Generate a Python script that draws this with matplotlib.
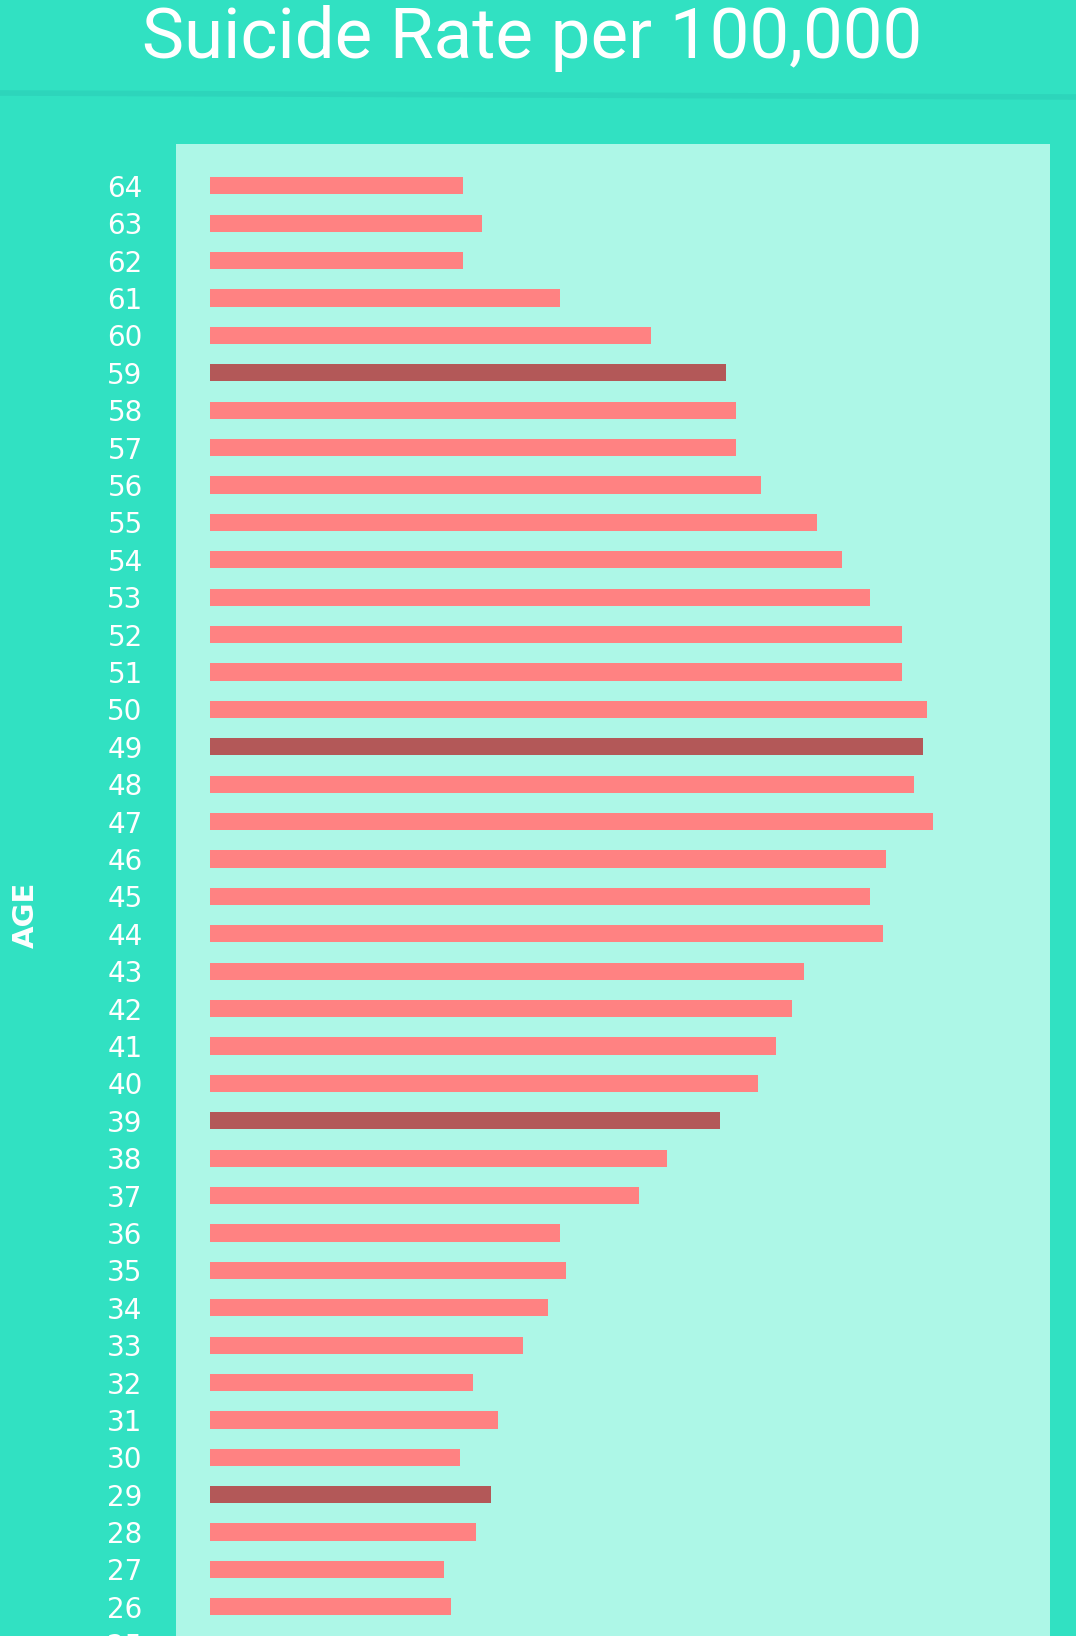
import numpy as np
import matplotlib
matplotlib.use("Agg")
from matplotlib import pyplot as plt

# data
ages = list(range(64, 24, -1))
rates = [8.1, 8.7, 8.1, 11.2, 14.1, 16.5, 16.8, 16.8, 17.6, 19.4,
         20.2, 21.1, 22.1, 22.1, 22.9, 22.8, 22.5, 23.1, 21.6, 21.1,
         21.5, 19.0, 18.6, 18.1, 17.5, 16.3, 14.6, 13.7, 11.2, 11.4,
         10.8, 10.0, 8.4, 9.2, 8.0, 9.0, 8.5, 7.5, 7.7, 7.8]
highlight = [59, 49, 39, 29]

BG = "#31e1c2"
PANEL = "#adf7e7"
BAR = "#ff8282"
DARK = "#b35858"

W, H = 1076, 1636
fig = plt.figure(figsize=(W / 100, H / 100), dpi=100, facecolor=BG)

# panel runs off the bottom of the picture
top_px, bot_px = 144, 1700
ax = fig.add_axes([176 / W, 1 - bot_px / H, (1050 - 176) / W, (bot_px - top_px) / H])
ax.set_facecolor(PANEL)
for s in ax.spines.values():
    s.set_visible(False)

colors = [DARK if a in highlight else BAR for a in ages]
ax.barh(ages, rates, height=0.46, color=colors, left=0)

ax.set_xlim(-1.07, 26.84)
ax.set_ylim(23.51, 65.12)
ax.set_xticks([])
ax.set_yticks(ages)
ax.set_yticklabels([str(a) for a in ages], color="white", fontsize=20, family="DejaVu Sans")
ax.tick_params(axis="y", length=0, pad=24)
ax.set_ylabel("AGE", color="white", fontsize=21, fontweight="bold")
ax.yaxis.set_label_coords(-136 / 874, (bot_px - 915) / (bot_px - top_px))

# title and the thin divider under it
fig.text(532 / W, 1 - 58 / H, "Suicide Rate per 100,000", color="white",
         fontsize=51, family="Roboto", ha="center", va="baseline")
line = plt.Line2D([0, 1], [1 - 93 / H, 1 - 97 / H], transform=fig.transFigure,
                  color="#2dd5bb", lw=4)
fig.add_artist(line)

fig.savefig("out.png", dpi=100, facecolor=BG)
